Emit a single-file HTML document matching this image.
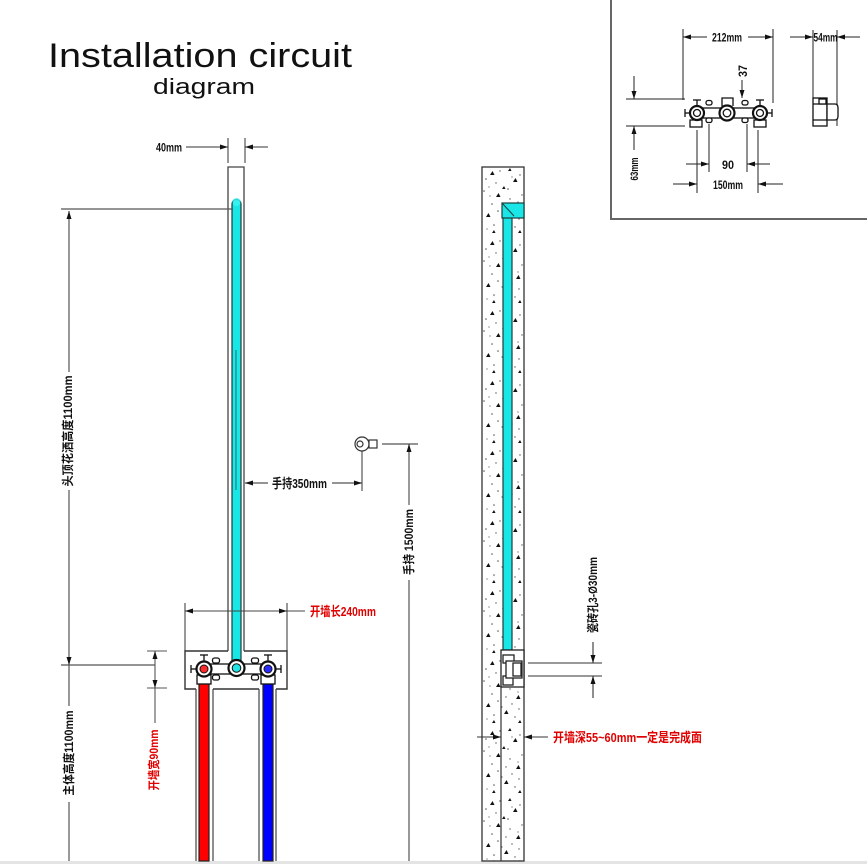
<!DOCTYPE html>
<html>
<head>
<meta charset="utf-8">
<style>
html,body{margin:0;padding:0;background:#fff;}
svg{display:block;}
.cad{font-family:"Liberation Sans Narrow","Liberation Sans","Noto Sans CJK SC",sans-serif;font-weight:bold;}
</style>
</head>
<body>
<svg width="867" height="864" viewBox="0 0 867 864" xmlns="http://www.w3.org/2000/svg">
<defs>
<pattern id="conc" patternUnits="userSpaceOnUse" x="482" y="167" width="42" height="70">
  <rect width="42" height="70" fill="#fff"/>
  <path d="M8,8 l2.5,-4 l2,4z M31,15 l2.5,-4 l2,4z M14,30 l2.5,-4 l2,4z M34,42 l2.5,-4 l2,4z M4,50 l2.5,-4 l2,4z M22,57 l2.5,-4 l2,4z M26,4 l2,-3 l1.5,3z M36,66 l2,-3 l1.5,3z M10,66 l2,-3 l1.5,3z M20,22 l2,-3 l1.5,3z" fill="#111"/>
  <g fill="#555">
    <circle cx="4" cy="12" r="0.8"/><circle cx="18" cy="4" r="0.7"/><circle cx="26" cy="22" r="0.8"/>
    <circle cx="38" cy="8" r="0.7"/><circle cx="10" cy="37" r="0.8"/><circle cx="28" cy="32" r="0.7"/>
    <circle cx="16" cy="44" r="0.8"/><circle cx="37" cy="52" r="0.7"/><circle cx="2" cy="24" r="0.8"/>
    <circle cx="14" cy="16" r="0.7"/><circle cx="40" cy="28" r="0.7"/><circle cx="12" cy="58" r="0.8"/>
    <circle cx="30" cy="47" r="0.7"/><circle cx="7" cy="20" r="0.6"/><circle cx="24" cy="40" r="0.7"/>
    <circle cx="33" cy="60" r="0.7"/><circle cx="5" cy="62" r="0.6"/><circle cx="20" cy="50" r="0.6"/>
    <circle cx="36" cy="35" r="0.6"/><circle cx="8" cy="29" r="0.6"/><circle cx="30" cy="10" r="0.6"/>
  </g>
</pattern>
</defs>

<rect width="867" height="864" fill="#fff"/>
<rect x="0" y="861" width="867" height="3" fill="#e4e4e4"/>

<!-- Title -->
<text x="48" y="67" font-family="Liberation Sans, sans-serif" font-size="34" fill="#111" textLength="304" lengthAdjust="spacingAndGlyphs">Installation circuit</text>
<text x="153" y="94" font-family="Liberation Sans, sans-serif" font-size="22" fill="#111" textLength="102" lengthAdjust="spacingAndGlyphs">diagram</text>

<!-- ================= INSET ================= -->
<path d="M611,0 V219 H867" fill="none" stroke="#666" stroke-width="2"/>
<g stroke="#222" stroke-width="1" fill="none">
  <line x1="683" y1="29" x2="683" y2="100"/>
  <line x1="773" y1="29" x2="773" y2="103"/>
  <line x1="683" y1="37" x2="707" y2="37"/>
  <line x1="748" y1="37" x2="773" y2="37"/>
  <line x1="813" y1="30" x2="813" y2="98"/>
  <line x1="837" y1="30" x2="837" y2="126"/>
  <line x1="790" y1="37" x2="813" y2="37"/>
  <line x1="837" y1="37" x2="860" y2="37"/>
  <line x1="742" y1="80" x2="742" y2="98"/>
  <line x1="626" y1="99" x2="685" y2="99"/>
  <line x1="626" y1="126" x2="685" y2="126"/>
  <line x1="634" y1="76" x2="634" y2="99"/>
  <line x1="634" y1="126" x2="634" y2="150"/>
  <line x1="709" y1="124" x2="709" y2="172"/>
  <line x1="747" y1="124" x2="747" y2="172"/>
  <line x1="686" y1="164" x2="709" y2="164"/>
  <line x1="747" y1="164" x2="770" y2="164"/>
  <line x1="697" y1="130" x2="697" y2="193"/>
  <line x1="758" y1="130" x2="758" y2="193"/>
  <line x1="673" y1="184" x2="697" y2="184"/>
  <line x1="758" y1="184" x2="783" y2="184"/>
</g>
<g fill="#111">
  <polygon points="683,37 691,34.5 691,39.5"/>
  <polygon points="773,37 765,34.5 765,39.5"/>
  <polygon points="813,37 805,34.5 805,39.5"/>
  <polygon points="837,37 845,34.5 845,39.5"/>
  <polygon points="742,98 739.5,90 744.5,90"/>
  <polygon points="634,99 631.5,91 636.5,91"/>
  <polygon points="634,126 631.5,134 636.5,134"/>
  <polygon points="709,164 701,161.5 701,166.5"/>
  <polygon points="747,164 755,161.5 755,166.5"/>
  <polygon points="697,184 689,181.5 689,186.5"/>
  <polygon points="758,184 766,181.5 766,186.5"/>
</g>
<g class="cad" fill="#111">
  <text x="727" y="41.5" font-size="12" text-anchor="middle" textLength="30" lengthAdjust="spacingAndGlyphs">212mm</text>
  <text x="825.5" y="41.5" font-size="12" text-anchor="middle" textLength="24" lengthAdjust="spacingAndGlyphs">54mm</text>
  <text transform="translate(747,71) rotate(-90)" font-size="12" text-anchor="middle" textLength="12" lengthAdjust="spacingAndGlyphs">37</text>
  <text transform="translate(638,169) rotate(-90)" font-size="11" text-anchor="middle" textLength="23" lengthAdjust="spacingAndGlyphs">63mm</text>
  <text x="728" y="169" font-size="12" text-anchor="middle" textLength="12" lengthAdjust="spacingAndGlyphs">90</text>
  <text x="728" y="189" font-size="12" text-anchor="middle" textLength="30" lengthAdjust="spacingAndGlyphs">150mm</text>
</g>
<g stroke="#111" fill="#fff" stroke-width="1.3">
  <rect x="690" y="120" width="12" height="7"/>
  <rect x="754" y="120" width="12" height="7"/>
  <rect x="697" y="108" width="63" height="10"/>
  <path d="M722,106 V98 H733 V106" fill="none"/>
  <rect x="706" y="100.5" width="6" height="4.5" rx="2"/>
  <rect x="706" y="118" width="6" height="4.5" rx="2"/>
  <rect x="742" y="100.5" width="6" height="4.5" rx="2"/>
  <rect x="742" y="118" width="6" height="4.5" rx="2"/>
  <line x1="697" y1="106" x2="697" y2="100"/><line x1="693" y1="100" x2="701" y2="100"/>
  <line x1="690" y1="113" x2="685" y2="113"/><line x1="685" y1="109" x2="685" y2="117"/>
  <line x1="760" y1="106" x2="760" y2="100"/><line x1="756" y1="100" x2="764" y2="100"/>
  <line x1="767" y1="113" x2="772" y2="113"/><line x1="772" y1="109" x2="772" y2="117"/>
  <circle cx="697" cy="113" r="7" stroke-width="2.2"/>
  <circle cx="727" cy="113" r="7.5" stroke-width="2.2"/>
  <circle cx="760" cy="113" r="7" stroke-width="2.2"/>
  <circle cx="697" cy="113" r="3.5"/>
  <circle cx="727" cy="113" r="3.8"/>
  <circle cx="760" cy="113" r="3.5"/>
</g>
<g stroke="#111" fill="#fff" stroke-width="1.3">
  <rect x="813" y="98" width="14" height="28"/>
  <path d="M813,104 H827 M813,120 H827"/>
  <path d="M827,104 H835 Q838,104 838,108 V116 Q838,120 835,120 H827 Z"/>
  <rect x="819" y="99" width="7" height="5"/>
</g>

<!-- ================= LEFT DRAWING ================= -->
<g stroke="#333" stroke-width="1" fill="none">
  <line x1="228" y1="138" x2="228" y2="163"/>
  <line x1="245" y1="138" x2="245" y2="163"/>
  <line x1="186" y1="147" x2="228" y2="147"/>
  <line x1="245" y1="147" x2="268" y2="147"/>
</g>
<polygon points="228,147 220,144.5 220,149.5" fill="#111"/>
<polygon points="245,147 253,144.5 253,149.5" fill="#111"/>
<text class="cad" x="169" y="151.5" font-size="12" text-anchor="middle" textLength="26" lengthAdjust="spacingAndGlyphs" fill="#111">40mm</text>

<path d="M228,651 V167 H244 V651" fill="none" stroke="#444" stroke-width="1.3"/>
<path d="M232,662 V204 A4.5,4.5 0 0 1 241,204 V662" fill="#19e6e6" stroke="#1b3c3c" stroke-width="1.2"/>
<ellipse cx="236.5" cy="202" rx="4" ry="4" fill="#3ff5f5" opacity="0.8"/>
<line x1="236" y1="350" x2="236" y2="490" stroke="#2a7f7f" stroke-width="1.2"/>

<g stroke="#555" stroke-width="1.2" fill="none">
  <line x1="61" y1="209" x2="233" y2="209"/>
  <line x1="69" y1="211" x2="69" y2="372"/>
  <line x1="69" y1="490" x2="69" y2="706"/>
  <line x1="69" y1="802" x2="69" y2="861"/>
  <line x1="61" y1="665" x2="155" y2="665"/>
</g>
<polygon points="69,211 66.5,219 71.5,219" fill="#111"/>
<polygon points="69,665 66.5,657 71.5,657" fill="#111"/>
<g class="cad" fill="#111">
  <text transform="translate(72,431) rotate(-90)" font-size="12" text-anchor="middle" textLength="111" lengthAdjust="spacingAndGlyphs">头顶花洒高度1100mm</text>
  <text transform="translate(73,753) rotate(-90)" font-size="12" text-anchor="middle" textLength="85" lengthAdjust="spacingAndGlyphs">主体高度1100mm</text>
</g>

<g stroke="#555" stroke-width="1.1" fill="none">
  <line x1="147" y1="651" x2="167" y2="651"/>
  <line x1="147" y1="688" x2="167" y2="688"/>
  <line x1="155" y1="651" x2="155" y2="723"/>
</g>
<polygon points="155,651 152.5,659 157.5,659" fill="#111"/>
<polygon points="155,688 152.5,680 157.5,680" fill="#111"/>
<text class="cad" transform="translate(158,760) rotate(-90)" font-size="12" text-anchor="middle" textLength="61" lengthAdjust="spacingAndGlyphs" fill="#e00000">开墙宽90mm</text>

<g stroke="#444" stroke-width="1.1" fill="none">
  <line x1="185" y1="603" x2="185" y2="651"/>
  <line x1="287" y1="603" x2="287" y2="651"/>
  <line x1="185" y1="611" x2="305" y2="611"/>
</g>
<polygon points="185,611 193,608.5 193,613.5" fill="#111"/>
<polygon points="287,611 279,608.5 279,613.5" fill="#111"/>
<text class="cad" x="310" y="616" font-size="13" textLength="66" lengthAdjust="spacingAndGlyphs" fill="#e00000">开墙长240mm</text>

<path d="M228,651 H185 V689 H196 M213,689 H259 M276,689 H287 V651 H244" fill="none" stroke="#333" stroke-width="1.4"/>
<g stroke="#444" stroke-width="1.2">
  <line x1="196" y1="689" x2="196" y2="861"/>
  <line x1="213" y1="689" x2="213" y2="861"/>
  <line x1="259" y1="689" x2="259" y2="861"/>
  <line x1="276" y1="689" x2="276" y2="861"/>
</g>
<rect x="199" y="676" width="10" height="185" fill="#ff0000" stroke="#222" stroke-width="1.2"/>
<rect x="263" y="676" width="10" height="185" fill="#0000ff" stroke="#222" stroke-width="1.2"/>
<g stroke="#111" fill="#fff" stroke-width="1.3">
  <rect x="197" y="675" width="14" height="9"/>
  <rect x="261" y="675" width="14" height="9"/>
  <rect x="204" y="664" width="64" height="10"/>
  <rect x="212.5" y="658" width="7" height="5" rx="2"/>
  <rect x="212.5" y="675" width="7" height="5" rx="2"/>
  <rect x="251.5" y="658" width="7" height="5" rx="2"/>
  <rect x="251.5" y="675" width="7" height="5" rx="2"/>
  <line x1="204" y1="661" x2="204" y2="655"/><line x1="200" y1="655" x2="208" y2="655"/>
  <line x1="196" y1="669" x2="191" y2="669"/><line x1="191" y1="665" x2="191" y2="673"/>
  <line x1="268" y1="661" x2="268" y2="655"/><line x1="264" y1="655" x2="272" y2="655"/>
  <line x1="276" y1="669" x2="281" y2="669"/><line x1="281" y1="665" x2="281" y2="673"/>
  <circle cx="204" cy="669" r="7.5" stroke-width="2.2"/>
  <circle cx="236.5" cy="668" r="8" stroke-width="2.2"/>
  <circle cx="268" cy="669" r="7.5" stroke-width="2.2"/>
</g>
<circle cx="204" cy="669" r="4" fill="#ff2a2a" stroke="#111" stroke-width="1"/>
<circle cx="236.5" cy="668" r="4.3" fill="#22e6e6" stroke="#111" stroke-width="1"/>
<circle cx="268" cy="669" r="4" fill="#2a2aff" stroke="#111" stroke-width="1"/>

<g stroke="#555" stroke-width="1.2" fill="none">
  <line x1="245" y1="483" x2="268" y2="483"/>
  <line x1="332" y1="483" x2="362" y2="483"/>
  <line x1="362" y1="451" x2="362" y2="491"/>
  <line x1="382" y1="444" x2="418" y2="444"/>
  <line x1="409" y1="444" x2="409" y2="505"/>
  <line x1="409" y1="580" x2="409" y2="861"/>
</g>
<polygon points="245,483 253,480.5 253,485.5" fill="#111"/>
<polygon points="362,483 354,480.5 354,485.5" fill="#111"/>
<polygon points="409,444 406.5,452 411.5,452" fill="#111"/>
<g stroke="#333" stroke-width="1.2" fill="#fff">
  <circle cx="362" cy="444" r="7"/>
  <circle cx="360" cy="444" r="3"/>
  <rect x="369" y="440" width="8" height="8"/>
</g>
<g class="cad" fill="#111">
  <text x="299.5" y="488" font-size="13" text-anchor="middle" textLength="55" lengthAdjust="spacingAndGlyphs">手持350mm</text>
  <text transform="translate(413,542) rotate(-90)" font-size="12" text-anchor="middle" textLength="66" lengthAdjust="spacingAndGlyphs">手持 1500mm</text>
</g>

<!-- ================= WALL SECTION ================= -->
<rect x="482" y="167" width="42" height="694" fill="url(#conc)" stroke="#333" stroke-width="1.3"/>
<line x1="501" y1="687" x2="501" y2="861" stroke="#333" stroke-width="1.2"/>
<rect x="503" y="216" width="9" height="434" fill="#19e6e6" stroke="#1b3c3c" stroke-width="1.2"/>
<rect x="502" y="203" width="22" height="15" fill="#19e6e6" stroke="#1b3c3c" stroke-width="1.2"/>
<line x1="502" y1="203" x2="514" y2="216" stroke="#1b3c3c" stroke-width="1"/>
<g stroke="#222" stroke-width="1.3" fill="#fff">
  <rect x="501" y="650" width="23" height="37"/>
  <rect x="503" y="655" width="11" height="8"/>
  <rect x="503" y="676" width="10" height="9"/>
  <rect x="506" y="661" width="16" height="17"/>
  <rect x="513" y="663" width="8" height="13"/>
</g>
<g stroke="#333" stroke-width="1.1">
  <line x1="528" y1="663" x2="602" y2="663"/>
  <line x1="528" y1="676" x2="602" y2="676"/>
  <line x1="593" y1="642" x2="593" y2="663"/>
  <line x1="593" y1="676" x2="593" y2="698"/>
  <line x1="477" y1="737" x2="501" y2="737"/>
  <line x1="524" y1="737" x2="548" y2="737"/>
</g>
<polygon points="593,663 590.5,655 595.5,655" fill="#111"/>
<polygon points="593,676 590.5,684 595.5,684" fill="#111"/>
<polygon points="501,737 493,734.5 493,739.5" fill="#111"/>
<polygon points="524,737 532,734.5 532,739.5" fill="#111"/>
<text class="cad" transform="translate(597,595) rotate(-90)" font-size="12" text-anchor="middle" textLength="76" lengthAdjust="spacingAndGlyphs" fill="#111">瓷砖孔3-Ø30mm</text>
<text class="cad" x="553" y="742" font-size="13" textLength="149" lengthAdjust="spacingAndGlyphs" fill="#e00000">开墙深55~60mm一定是完成面</text>

</svg>
</body>
</html>
